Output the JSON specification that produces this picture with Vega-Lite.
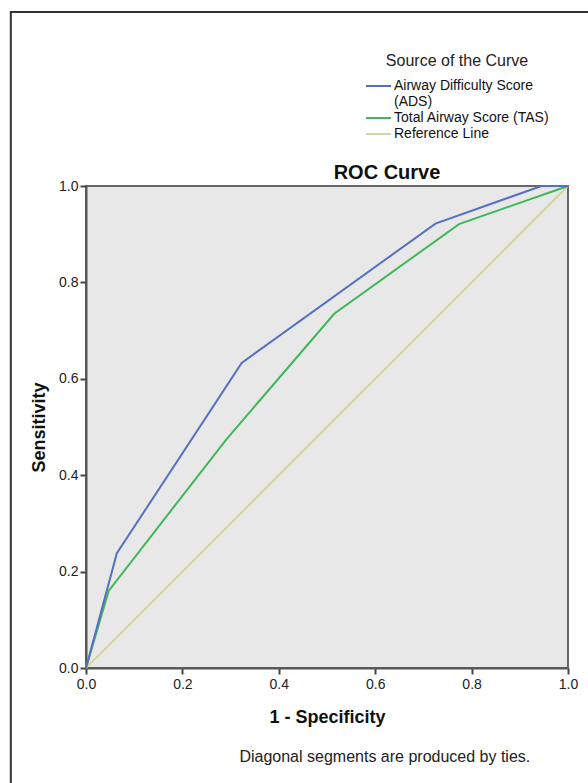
{
  "$schema": "https://vega.github.io/schema/vega-lite/v6.json",
  "width": 482,
  "height": 482,
  "autosize": {"type": "none"},
  "padding": {"left": 86, "top": 186, "right": 20, "bottom": 115},
  "background": "white",
  "title": {
    "text": "ROC Curve",
    "font": "Liberation Sans",
    "fontSize": 20,
    "fontWeight": "bold",
    "color": "#111",
    "anchor": "middle",
    "dx": 60,
    "dy": 178,
    "offset": 6
  },
  "config": {
    "font": "Liberation Sans",
    "view": {"stroke": "#666", "strokeWidth": 2, "fill": "#e8e8e8"},
    "axis": {
      "labelFont": "Liberation Sans",
      "labelFontSize": 14,
      "labelColor": "#222",
      "titleFont": "Liberation Sans",
      "titleFontSize": 18,
      "titleFontWeight": "bold",
      "titleColor": "#111",
      "tickColor": "#444",
      "tickWidth": 2,
      "tickSize": 6,
      "domainColor": "#555",
      "domainWidth": 2,
      "grid": false,
      "labelFlush": false
    }
  },
  "layer": [
    {
      "data": {"values": [{}]},
      "mark": {"type": "rect", "fill": null, "fillOpacity": 0, "stroke": "#333", "strokeWidth": 2, "clip": false},
      "encoding": {
        "x": {"datum": -0.156, "type": "quantitative"},
        "x2": {"datum": 1.3},
        "y": {"datum": 1.361, "type": "quantitative"},
        "y2": {"datum": -0.4}
      }
    },
    {
      "data": {
        "values": [
          {"series": "Reference Line", "o": 0, "fpr": 0, "tpr": 0},
          {"series": "Reference Line", "o": 1, "fpr": 1, "tpr": 1},
          {"series": "Total Airway Score (TAS)", "o": 0, "fpr": 0, "tpr": 0},
          {"series": "Total Airway Score (TAS)", "o": 1, "fpr": 0.047, "tpr": 0.16},
          {"series": "Total Airway Score (TAS)", "o": 2, "fpr": 0.29, "tpr": 0.473},
          {"series": "Total Airway Score (TAS)", "o": 3, "fpr": 0.515, "tpr": 0.735},
          {"series": "Total Airway Score (TAS)", "o": 4, "fpr": 0.774, "tpr": 0.921},
          {"series": "Total Airway Score (TAS)", "o": 5, "fpr": 1, "tpr": 1},
          {"series": "Airway Difficulty Score (ADS)", "o": 0, "fpr": 0, "tpr": 0},
          {"series": "Airway Difficulty Score (ADS)", "o": 1, "fpr": 0.064, "tpr": 0.238},
          {"series": "Airway Difficulty Score (ADS)", "o": 2, "fpr": 0.323, "tpr": 0.633},
          {"series": "Airway Difficulty Score (ADS)", "o": 3, "fpr": 0.725, "tpr": 0.922},
          {"series": "Airway Difficulty Score (ADS)", "o": 4, "fpr": 0.945, "tpr": 1},
          {"series": "Airway Difficulty Score (ADS)", "o": 5, "fpr": 1, "tpr": 1}
        ]
      },
      "mark": {"type": "line", "strokeWidth": 2},
      "encoding": {
        "x": {
          "field": "fpr", "type": "quantitative",
          "scale": {"domain": [0, 1], "nice": false},
          "axis": {"values": [0, 0.2, 0.4, 0.6, 0.8, 1], "format": ".1f", "title": "1 - Specificity", "labelPadding": 3, "titlePadding": 17}
        },
        "y": {
          "field": "tpr", "type": "quantitative",
          "scale": {"domain": [0, 1], "nice": false},
          "axis": {"values": [0, 0.2, 0.4, 0.6, 0.8, 1], "format": ".1f", "title": "Sensitivity", "labelPadding": 2, "titlePadding": 10}
        },
        "order": {"field": "o"},
        "color": {
          "field": "series", "type": "nominal",
          "scale": {
            "domain": ["Airway Difficulty Score (ADS)", "Total Airway Score (TAS)", "Reference Line"],
            "range": ["#5470c0", "#3fb75a", "#d5d4a4"]
          },
          "legend": {
            "title": "Source of the Curve",
            "orient": "none",
            "legendX": 278,
            "legendY": -133,
            "titleFont": "Liberation Sans",
            "titleFontSize": 16,
            "titleFontWeight": "normal",
            "titleColor": "#222",
            "titleAnchor": "middle",
            "titlePadding": 10,
            "labelFont": "Liberation Sans",
            "labelFontSize": 14,
            "labelColor": "#111",
            "labelOffset": 16,
            "labelLimit": 300,
            "labelExpr": "datum.label == 'Airway Difficulty Score (ADS)' ? ['Airway Difficulty Score', '(ADS)'] : datum.label",
            "symbolType": "M-1,0H4",
            "symbolSize": 100,
            "symbolStrokeWidth": 2,
            "rowPadding": 2
          }
        }
      }
    },
    {
      "data": {"values": [{"note": "Diagonal segments are produced by ties."}]},
      "mark": {"type": "text", "font": "Liberation Sans", "fontSize": 16, "color": "#222", "align": "center", "baseline": "alphabetic", "clip": false},
      "encoding": {
        "x": {"datum": 0.62, "type": "quantitative"},
        "y": {"datum": -0.195, "type": "quantitative"},
        "text": {"field": "note"}
      }
    }
  ]
}
